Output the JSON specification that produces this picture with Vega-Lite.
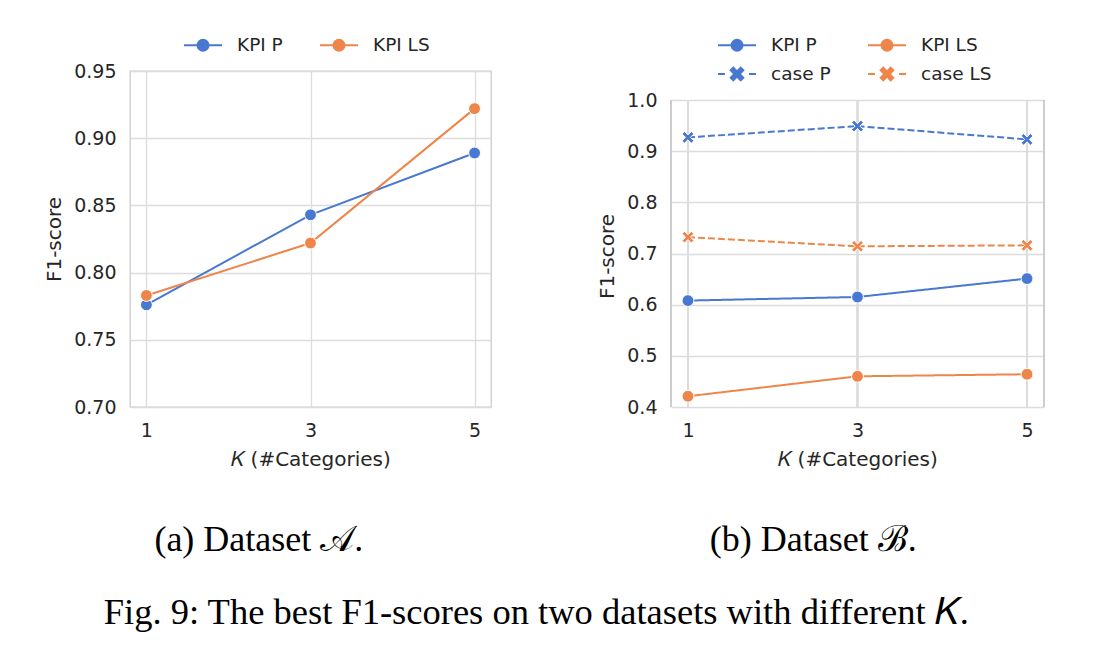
{
  "$schema": "https://vega.github.io/schema/vega-lite/v6.json",
  "background": "white",
  "padding": {"left": 44, "top": 33, "right": 5, "bottom": 5},
  "datasets": {
    "A": [
      {"K": 1, "series": "KPI P", "f1": 0.776},
      {"K": 3, "series": "KPI P", "f1": 0.843},
      {"K": 5, "series": "KPI P", "f1": 0.889},
      {"K": 1, "series": "KPI LS", "f1": 0.783},
      {"K": 3, "series": "KPI LS", "f1": 0.822},
      {"K": 5, "series": "KPI LS", "f1": 0.922}
    ],
    "B": [
      {"K": 1, "series": "KPI P", "source": "KPI", "f1": 0.608},
      {"K": 3, "series": "KPI P", "source": "KPI", "f1": 0.615},
      {"K": 5, "series": "KPI P", "source": "KPI", "f1": 0.651},
      {"K": 1, "series": "KPI LS", "source": "KPI", "f1": 0.421},
      {"K": 3, "series": "KPI LS", "source": "KPI", "f1": 0.460},
      {"K": 5, "series": "KPI LS", "source": "KPI", "f1": 0.464},
      {"K": 1, "series": "case P", "source": "case", "f1": 0.927},
      {"K": 3, "series": "case P", "source": "case", "f1": 0.949},
      {"K": 5, "series": "case P", "source": "case", "f1": 0.923},
      {"K": 1, "series": "case LS", "source": "case", "f1": 0.732},
      {"K": 3, "series": "case LS", "source": "case", "f1": 0.714},
      {"K": 5, "series": "case LS", "source": "case", "f1": 0.716}
    ]
  },
  "config": {
    "view": {"stroke": "#cccccc", "strokeWidth": 1.3},
    "axis": {
      "grid": true,
      "gridColor": "#dcdcdc",
      "gridWidth": 1.3,
      "domain": false,
      "ticks": false,
      "labelFont": "DejaVu Sans",
      "labelFontSize": 19,
      "labelColor": "#262626",
      "labelPadding": 14,
      "titleFont": "DejaVu Sans",
      "titleFontSize": 20,
      "titleFontWeight": "normal",
      "titleColor": "#262626",
      "titlePadding": 9
    },
    "legend": {
      "orient": "none",
      "direction": "horizontal",
      "columns": 2,
      "padding": 0,
      "symbolSize": 400,
      "symbolStrokeWidth": 2,
      "labelFont": "DejaVu Sans",
      "labelFontSize": 18.5,
      "labelColor": "#262626",
      "labelOffset": 23,
      "columnPadding": 33,
      "rowPadding": 8
    },
    "title": {"font": "Liberation Serif", "fontSize": 36.5, "fontWeight": "normal", "color": "#000000"}
  },
  "title": {
    "text": "Fig. 9: The best F1-scores on two datasets with different 𝐾.",
    "orient": "bottom",
    "anchor": "middle",
    "offset": 36,
    "dx": -8
  },
  "spacing": 105,
  "resolve": {
    "scale": {"color": "independent", "shape": "independent", "strokeDash": "independent", "x": "independent", "y": "independent"},
    "legend": {"color": "independent"}
  },
  "hconcat": [
    {
      "width": 361,
      "height": 336,
      "title": {"text": "(a) Dataset 𝒜.", "orient": "bottom", "anchor": "middle", "frame": "bounds", "offset": 54, "dx": -9, "fontSize": 36},
      "data": {"name": "A"},
      "encoding": {
        "x": {
          "field": "K", "type": "quantitative",
          "scale": {"domain": [0.8, 5.2], "nice": false, "zero": false},
          "axis": {"values": [1, 3, 5], "format": "d", "title": "𝐾 (#Categories)"}
        },
        "y": {
          "field": "f1", "type": "quantitative",
          "scale": {"domain": [0.7, 0.95], "nice": false, "zero": false},
          "axis": {"values": [0.7, 0.75, 0.8, 0.85, 0.9, 0.95], "format": ".2f", "title": "F1-score"}
        },
        "color": {
          "field": "series", "type": "nominal",
          "scale": {"domain": ["KPI P", "KPI LS"], "range": ["#4878d0", "#ee854a"]},
          "legend": {
            "title": null,
            "legendX": 62,
            "legendY": -37,
            "encode": {
              "symbols": {
                "update": {
                  "shape": {"value": "M-1.9,0H1.9M0.55,0A0.55,0.55 0 1,1 -0.55,0A0.55,0.55 0 1,1 0.55,0Z"},
                  "fill": {"signal": "datum.value === 'KPI P' ? '#4878d0' : '#ee854a'"},
                  "stroke": {"signal": "datum.value === 'KPI P' ? '#4878d0' : '#ee854a'"},
                  "opacity": {"value": 1}
                }
              }
            }
          }
        }
      },
      "layer": [
        {"mark": {"type": "line", "strokeWidth": 2}},
        {"mark": {"type": "point", "filled": true, "shape": "circle", "size": 140, "stroke": "white", "strokeWidth": 1, "opacity": 1}}
      ]
    },
    {
      "width": 373,
      "height": 336,
      "view": {"stroke": null},
      "title": {"text": "(b) Dataset ℬ.", "orient": "bottom", "anchor": "middle", "frame": "bounds", "offset": 54, "dx": -8, "fontSize": 36},
      "data": {"name": "B"},
      "layer": [
        {
          "mark": {"type": "rule", "color": "#dcdcdc", "strokeWidth": 1.3},
          "encoding": {"x": {"datum": 1}, "y": {"datum": 0.4}, "y2": {"datum": 1.0}}
        },
        {
          "mark": {"type": "rule", "color": "#dcdcdc", "strokeWidth": 1.3},
          "encoding": {"x": {"datum": 3}, "y": {"datum": 0.4}, "y2": {"datum": 1.0}}
        },
        {
          "mark": {"type": "rule", "color": "#dcdcdc", "strokeWidth": 1.3},
          "encoding": {"x": {"datum": 5}, "y": {"datum": 0.4}, "y2": {"datum": 1.0}}
        },
        {
          "mark": {"type": "rule", "color": "#cccccc", "strokeWidth": 1.3},
          "encoding": {"x": {"datum": 0.8}, "y": {"datum": 0.4}, "y2": {"datum": 1.0}}
        },
        {
          "mark": {"type": "rule", "color": "#cccccc", "strokeWidth": 1.3},
          "encoding": {"x": {"datum": 5.2}, "y": {"datum": 0.4}, "y2": {"datum": 1.0}}
        },
        {
          "mark": {"type": "line", "strokeWidth": 2},
          "encoding": {
            "x": {"field": "K", "type": "quantitative"},
            "y": {"field": "f1", "type": "quantitative"},
            "color": {"field": "series", "type": "nominal"},
            "strokeDash": {
              "field": "source", "type": "nominal",
              "scale": {"domain": ["KPI", "case"], "range": [[1, 0], [7, 3]]},
              "legend": null
            }
          }
        },
        {
          "mark": {"type": "point", "filled": true, "size": 140, "stroke": "white", "strokeWidth": 1, "opacity": 1},
          "encoding": {
            "x": {"field": "K", "type": "quantitative"},
            "y": {"field": "f1", "type": "quantitative"},
            "color": {"field": "series", "type": "nominal"},
            "shape": {
              "field": "source", "type": "nominal",
              "scale": {"domain": ["KPI", "case"], "range": ["circle", "M-0.584,1L-1,0.584L-0.416,0L-1,-0.584L-0.584,-1L0,-0.416L0.584,-1L1,-0.584L0.416,0L1,0.584L0.584,1L0,0.416Z"]},
              "legend": null
            }
          }
        }
      ],
      "encoding": {
        "x": {
          "type": "quantitative",
          "scale": {"domain": [0.8, 5.2], "nice": false, "zero": false},
          "axis": {"values": [1, 3, 5], "format": "d", "title": "𝐾 (#Categories)", "grid": false}
        },
        "y": {
          "type": "quantitative",
          "scale": {"domain": [0.4, 1.0567], "nice": false, "zero": false},
          "axis": {"values": [0.4, 0.5, 0.6, 0.7, 0.8, 0.9, 1.0], "format": ".1f", "title": "F1-score", "titleY": 185, "titleAlign": "center"}
        },
        "color": {
          "type": "nominal",
          "scale": {"domain": ["KPI P", "KPI LS", "case P", "case LS"], "range": ["#4878d0", "#ee854a", "#4878d0", "#ee854a"]},
          "legend": {
            "title": null,
            "legendX": 55,
            "legendY": -37,
            "encode": {
              "symbols": {
                "update": {
                  "shape": {"signal": "(datum.value === 'KPI P' || datum.value === 'KPI LS') ? 'M-1.9,0H1.9M0.55,0A0.55,0.55 0 1,1 -0.55,0A0.55,0.55 0 1,1 0.55,0Z' : 'M-1.9,0H-1.2M1.2,0H1.9M-0.37,0.63L-0.63,0.37L-0.26,0L-0.63,-0.37L-0.37,-0.63L0,-0.26L0.37,-0.63L0.63,-0.37L0.26,0L0.63,0.37L0.37,0.63L0,0.26Z'"},
                  "fill": {"signal": "(datum.value === 'KPI P' || datum.value === 'case P') ? '#4878d0' : '#ee854a'"},
                  "stroke": {"signal": "(datum.value === 'KPI P' || datum.value === 'case P') ? '#4878d0' : '#ee854a'"},
                  "opacity": {"value": 1}
                }
              }
            }
          }
        }
      }
    }
  ]
}
